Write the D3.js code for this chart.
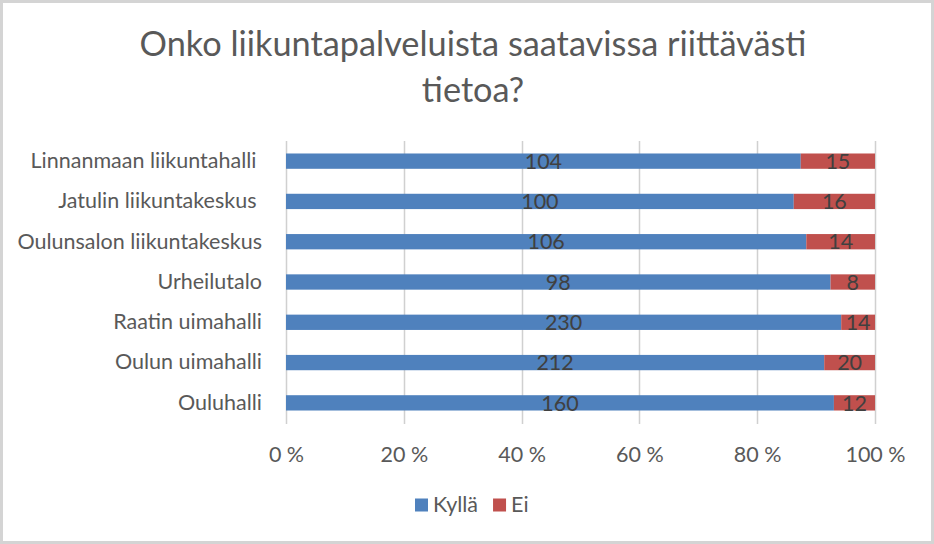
<!DOCTYPE html>
<html>
<head>
<meta charset="utf-8">
<script src="https://cdn.jsdelivr.net/npm/d3@7"></script>
<style>
  body { margin: 0; background: #fff; }
  text { font-family: Lato, "Open Sans", sans-serif; }
</style>
</head>
<body>
<div id="graph"></div>
<script>
// data
var categories = ["Linnanmaan liikuntahalli ", "Jatulin liikuntakeskus ", "Oulunsalon liikuntakeskus",
                  "Urheilutalo", "Raatin uimahalli", "Oulun uimahalli", "Ouluhalli"];
var kylla = [104, 100, 106, 98, 230, 212, 160];
var ei = [15, 16, 14, 8, 14, 20, 12];
var seriesNames = ["Kyllä", "Ei"];
var titleLines = ["Onko liikuntapalveluista saatavissa riittävästi", "tietoa?"];

var W = 934, H = 544;
var margin = {top: 141, right: 59, bottom: 121, left: 286},
    width = W - margin.left - margin.right,
    height = H - margin.top - margin.bottom;

var colors = ["#4f81bd", "#c0504d"];
var fs = "21.5px";

var svg = d3.select("#graph")
  .append("svg")
    .attr("width", W)
    .attr("height", H);

// outer frame
svg.append("rect")
  .attr("x", 1.5).attr("y", 1.5)
  .attr("width", W - 3).attr("height", H - 3)
  .attr("fill", "#fff")
  .attr("stroke", "#d4d4d4")
  .attr("stroke-width", 3);

// title
svg.append("text")
  .attr("x", 473)
  .attr("y", 56)
  .attr("text-anchor", "middle")
  .style("font-size", "34.3px")
  .style("fill", "#595959")
  .selectAll("tspan")
  .data(titleLines)
  .enter()
  .append("tspan")
    .attr("x", 473)
    .attr("dy", function(d, i) { return i === 0 ? 0 : 46; })
    .text(function(d) { return d; });

var g = svg.append("g")
  .attr("transform", "translate(" + margin.left + "," + margin.top + ")");

// stacked to percentages
var rows = categories.map(function(c, i) {
  var total = kylla[i] + ei[i];
  return {name: c, values: [kylla[i], ei[i]], total: total};
});

var x = d3.scaleLinear().domain([0, 1]).range([0, width]);
var y = d3.scaleBand().domain(categories).range([0, height]).paddingInner(0.62).paddingOuter(0.31);

// gridlines
g.append("g")
  .selectAll("line")
  .data(x.ticks(5))
  .enter()
  .append("line")
    .attr("x1", function(d) { return Math.round(x(d)) + 0.5; })
    .attr("x2", function(d) { return Math.round(x(d)) + 0.5; })
    .attr("y1", 0)
    .attr("y2", height + 1)
    .attr("stroke", "#d0d0d0")
    .attr("stroke-width", 1.5);

// x axis labels
var xAxis = g.append("g")
  .attr("transform", "translate(0," + height + ")")
  .call(d3.axisBottom(x).ticks(5).tickSize(0).tickFormat(function(d) { return Math.round(d * 100) + " %"; }));
xAxis.select(".domain").remove();
xAxis.selectAll("text")
  .attr("y", 39)
  .attr("dy", 0)
  .style("font-size", fs)
  .style("font-family", "Lato, sans-serif")
  .style("fill", "#595959");

// y axis labels
var yAxis = g.append("g")
  .attr("transform", "translate(-21,0)")
  .call(d3.axisLeft(y).tickSize(0));
yAxis.select(".domain").remove();
yAxis.selectAll("text")
  .style("font-size", fs)
  .style("font-family", "Lato, sans-serif")
  .style("fill", "#595959")
  .style("white-space", "pre");

// bars
rows.forEach(function(r) {
  var start = 0;
  r.values.forEach(function(v, k) {
    var x0 = start / r.total, x1 = (start + v) / r.total;
    g.append("rect")
      .attr("x", x(x0))
      .attr("y", y(r.name))
      .attr("width", x(x1) - x(x0))
      .attr("height", y.bandwidth())
      .attr("fill", colors[k]);
    g.append("text")
      .attr("x", (x(x0) + x(x1)) / 2)
      .attr("y", y(r.name) + y.bandwidth() / 2)
      .attr("dy", "0.36em")
      .attr("text-anchor", "middle")
      .style("font-size", fs)
      .style("fill", "#404040")
      .text(v);
    start += v;
  });
});

// legend
var legend = svg.append("g").attr("transform", "translate(415,505)");
var lx = 0;
seriesNames.forEach(function(s, i) {
  var item = legend.append("g").attr("transform", "translate(" + lx + ",0)");
  item.append("rect")
    .attr("x", 0).attr("y", -6.5)
    .attr("width", 13).attr("height", 13)
    .attr("fill", colors[i]);
  var t = item.append("text")
    .attr("x", 18)
    .attr("y", 7)
    .style("font-size", fs)
    .style("fill", "#595959")
    .text(s);
  lx += 18 + t.node().getComputedTextLength() + 15;
});
</script>
</body>
</html>
